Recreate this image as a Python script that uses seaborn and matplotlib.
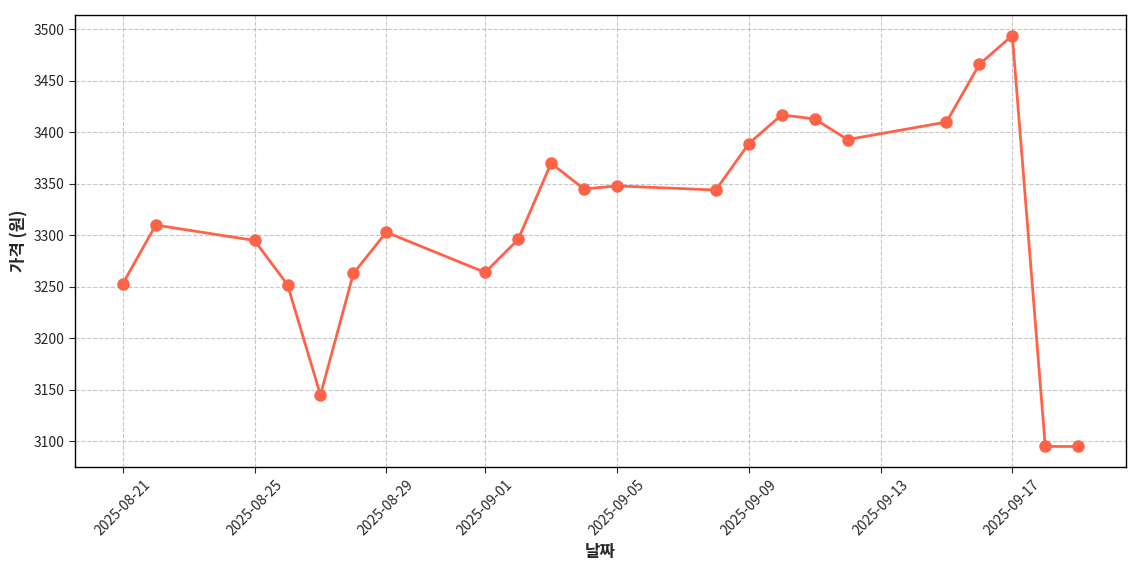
import matplotlib
matplotlib.use("Agg")
import matplotlib.pyplot as plt
import matplotlib.dates as mdates
import seaborn as sns
import pandas as pd

dates = ["2025-08-21", "2025-08-22", "2025-08-25", "2025-08-26", "2025-08-27",
         "2025-08-28", "2025-08-29", "2025-09-01", "2025-09-02", "2025-09-03",
         "2025-09-04", "2025-09-05", "2025-09-08", "2025-09-09", "2025-09-10",
         "2025-09-11", "2025-09-12", "2025-09-15", "2025-09-16", "2025-09-17",
         "2025-09-18", "2025-09-19"]
prices = [3253, 3310, 3295, 3252, 3145, 3263, 3303, 3264, 3296, 3370,
          3345, 3348, 3344, 3389, 3417, 3413, 3393, 3410, 3466, 3494,
          3095, 3095]
tick_days = [1, 5, 9, 13, 17, 21, 25, 29]

df = pd.DataFrame({"date": pd.to_datetime(dates), "price": prices})

sns.set_style("white")
plt.rcParams['font.family'] = ['Noto Sans CJK KR', 'DejaVu Sans']

fig, ax = plt.subplots(figsize=(11.4, 5.7), dpi=100)
sns.lineplot(data=df, x="date", y="price", ax=ax, color="#FF6347",
             linewidth=2, marker="o", markersize=9, markeredgewidth=0)

ax.xaxis.set_major_locator(mdates.DayLocator(bymonthday=tick_days))
ax.xaxis.set_major_formatter(mdates.DateFormatter("%Y-%m-%d"))
plt.setp(ax.get_xticklabels(), rotation=45, ha="center")
ax.tick_params(axis="both", labelsize=10, length=4, width=0.8, bottom=True, left=True)
for s in ax.spines.values():
    s.set_color("black")
    s.set_linewidth(1)

ax.grid(True, linestyle="--", alpha=0.7, color="#b0b0b0")
ax.set_xlabel("날짜", fontsize=12, fontweight="bold")
ax.set_ylabel("가격 (원)", fontsize=12, fontweight="bold")

fig.subplots_adjust(left=0.0658, right=0.9877, top=0.9737, bottom=0.1807)
fig.savefig("out.png", dpi=100)
